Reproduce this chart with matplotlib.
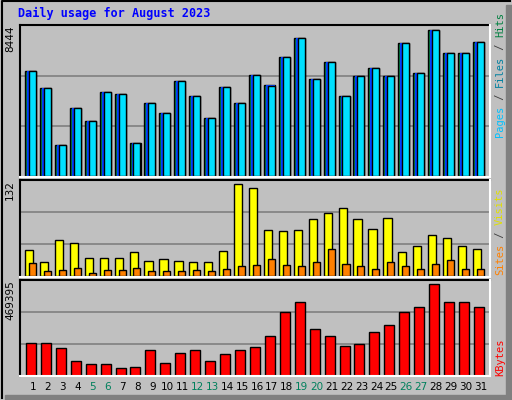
import matplotlib
matplotlib.use("Agg")
import matplotlib.pyplot as plt
from matplotlib.patches import Rectangle
from matplotlib.lines import Line2D

days = list(range(1, 32))
hits = [5911,4960,1773,3842,3115,4736,4625,1885,4121,3562,5352,4513,3283,5016,4121,5687,
        5128,6694,7756,5464,6414,4513,5631,6079,5631,7477,5799,8204,6917,6917,7533]
files = hits
pages = [5911,4960,1773,3842,3115,4736,4625,1885,4121,3562,5352,4513,3283,5016,4121,5687,
         5073,6694,7756,5464,6414,4513,5631,6079,5631,7477,5799,8204,6917,6917,7533]
visits = [36,20,50,46,25,25,25,33,21,24,21,20,20,35,127,121,63,62,63,79,87,94,79,65,80,33,42,57,53,42,37]
sites = [18,7,9,11,5,9,9,11,7,7,7,9,7,10,14,16,24,16,14,20,37,17,14,10,20,14,10,17,22,10,10]
kbytes = [159000,159000,135000,71000,56000,56000,36000,41000,125000,61000,110000,125000,71000,105000,
          125000,139000,194000,312000,361000,228000,194000,144000,154000,213000,248000,312000,336000,
          449700,361000,361000,336000]
weekend = [5,6,12,13,19,20,26,27]
max_hits, max_visits, max_kb = 8444, 132, 469395

W, H = 512, 400
BG = "#C0C0C0"
fig = plt.figure(figsize=(W/100, H/100), dpi=100, facecolor=BG)
mono = "DejaVu Sans Mono"

def ax_at(x0, y0, x1, y1):
    a = fig.add_axes([x0/W, 1-y1/H, (x1-x0)/W, (y1-y0)/H])
    a.set_facecolor(BG)
    for s in a.spines.values():
        s.set_visible(False)
    a.set_xticks([]); a.set_yticks([])
    a.set_xlim(0.129, 31.61)
    return a

def frame(y0, y1):
    fig.add_artist(Line2D([20/W, 490/W], [1-y0/H]*2, color="black", lw=1.5))
    fig.add_artist(Line2D([20/W]*2, [1-y0/H, 1-y1/H], color="black", lw=1.5))
    fig.add_artist(Line2D([20/W, 490/W], [1-y1/H]*2, color="white", lw=1.5))
    fig.add_artist(Line2D([490/W]*2, [1-y0/H, 1-y1/H], color="white", lw=1.5))

# outer frame
fig.add_artist(Line2D([2/W, 2/W, 510/W], [2/H, 1-1/H, 1-1/H], color="black", lw=1.5))
fig.add_artist(Rectangle((506/W, 0), 6/W, 1-5/H, color="#808080"))
fig.add_artist(Rectangle((5/W, 0), 507/W, 5/H, color="#808080"))

fig.text(18/W, 1-13/H, "Daily usage for August 2023", color="#0000FF", fontsize=8.5,
         family=mono, fontweight="bold", va="center", ha="left")

# top panel
a1 = ax_at(20, 25, 490, 177)
a1.set_ylim(-1*8444/151, 8444*152/151)
for g in [8444/3, 2*8444/3]:
    a1.axhline(g, color="#808080", lw=1.2, zorder=0)
for d, h, f, p in zip(days, hits, files, pages):
    a1.bar(d-0.536, h, width=0.737, align="edge", color="#008040", edgecolor="black", lw=1)
    a1.bar(d-0.40, f, width=0.60, align="edge", color="#0040FF", edgecolor="black", lw=0)
    a1.bar(d-0.27, p, width=0.47, align="edge", color="#00E0FF", edgecolor="black", lw=1)
frame(25, 177)

# middle panel
a2 = ax_at(20, 180, 490, 277)
a2.set_ylim(-0.7*132/96.4, 132*96.6/96.4)
for g in [132/3, 2*132/3]:
    a2.axhline(g, color="#808080", lw=1.2, zorder=0)
a2.bar([d-0.536 for d in days], visits, width=0.55, align="edge", color="#FFFF00", edgecolor="black", lw=1)
a2.bar([d-0.27 for d in days], sites, width=0.47, align="edge", color="#FF8000", edgecolor="black", lw=1)
frame(180, 277)

# bottom panel
a3 = ax_at(20, 280, 490, 376)
a3.set_ylim(-0.5*469395/95.4, 469395*95.6/95.4)
for g in [469395/3, 2*469395/3]:
    a3.axhline(g, color="#808080", lw=1.2, zorder=0)
a3.bar([d-0.47 for d in days], kbytes, width=0.67, align="edge", color="#FF0000", edgecolor="black", lw=1)
frame(280, 376)

for d in days:
    a3.text(d, -12/95.4*469395, str(d), ha="center", va="center", fontsize=7.5, family="DejaVu Sans",
            color="#00805C" if d in weekend else "black", clip_on=False)

for txt, y in [("8444", 25), ("132", 180), ("469395", 280)]:
    fig.text(10/W, 1-y/H, txt, rotation=90, ha="center", va="top", fontsize=7.5, family="DejaVu Sans")

def rlabel(parts, y_bottom):
    x = 500/W
    y = 1-y_bottom/H
    for t, c in parts:
        tx = fig.text(x, y, t, rotation=90, ha="center", va="bottom", color=c, fontsize=7.5, family=mono)
        fig.canvas.draw()
        bb = tx.get_window_extent()
        y += bb.height/H
rlabel([("Pages", "#00C0FF"), (" / ", "#404040"), ("Files", "#0080A0"), (" / ", "#404040"), ("Hits", "#008040")], 137)
rlabel([("Sites", "#FF8000"), (" / ", "#404040"), ("Visits", "#E0E000")], 275)
rlabel([("KBytes", "#FF0000")], 376)

fig.savefig("out.png", dpi=100, facecolor=BG)
